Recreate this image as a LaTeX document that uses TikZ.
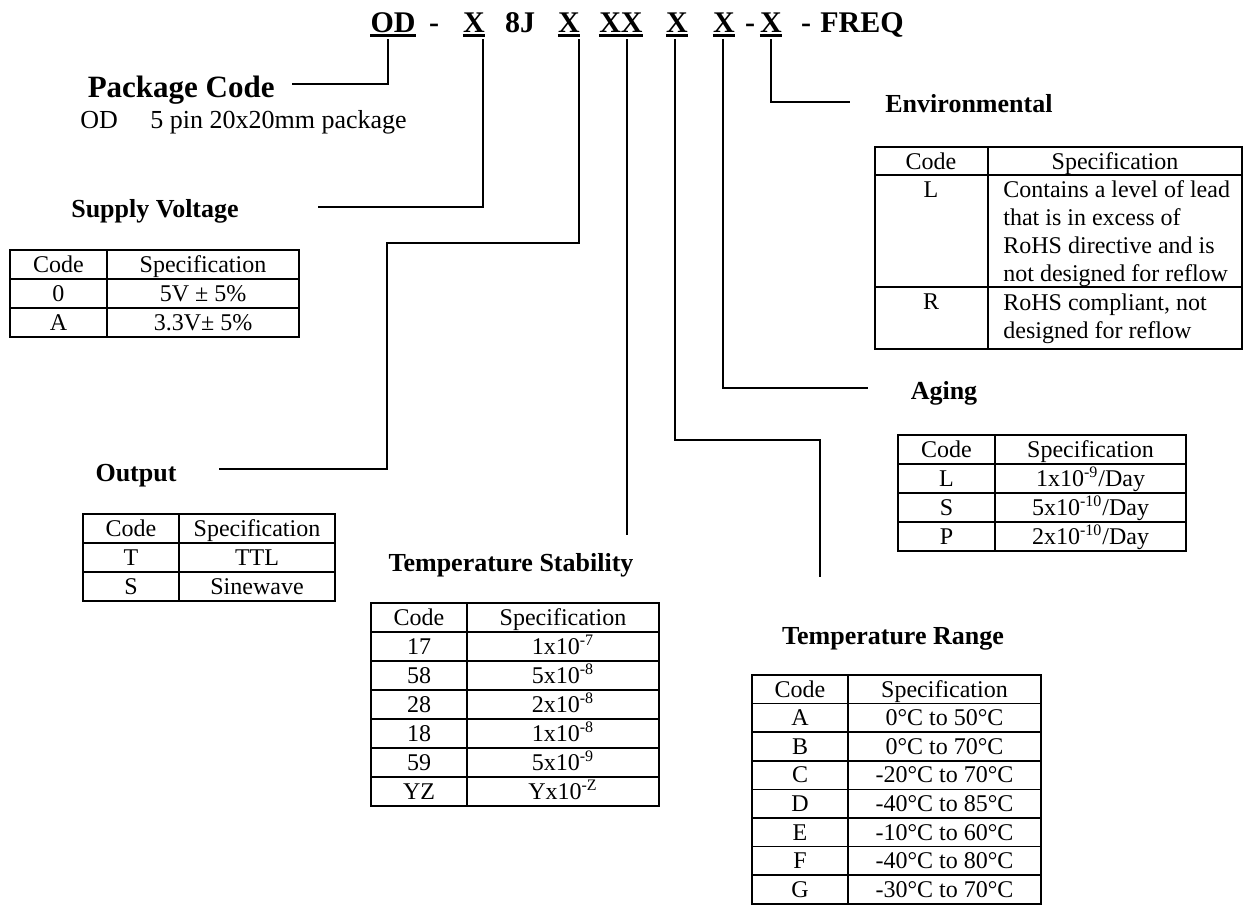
\documentclass[tikz,border=0pt]{standalone}
\usepackage{fontspec}
\setmainfont{Liberation Serif}
\tikzset{
  conn/.style={line width=0.65pt},
  grid/.style={line width=0.8pt},
  uline/.style={line width=1.1pt},
  cell/.style={anchor=base, inner sep=0pt, font=\fontsize{12}{14}\selectfont},
  body/.style={anchor=base west, inner sep=0pt, font=\fontsize{13}{15}\selectfont},
  ttl/.style={anchor=base, inner sep=0pt, font=\fontsize{13}{15}\bfseries\selectfont},
  ttlbig/.style={anchor=base east, inner sep=0pt, font=\fontsize{15.5}{18}\bfseries\selectfont},
  codech/.style={anchor=base, inner sep=0pt, font=\fontsize{15}{18}\bfseries\selectfont},
}
\newcommand\setTab[6]{\def\tN{#1}\def\tA{#2}\def\tB{#3}\def\tC{#4}\def\tT{#5}\def\tH{#6}}
\newcommand\spRow[3]{%
  \pgfmathsetmacro\yt{\tT+#1*\tH}\pgfmathsetmacro\yb{\tT+(#1+1)*\tH}%
  \draw[grid] (\tA,\yt) rectangle (\tC,\yb) (\tB,\yt) -- (\tB,\yb);%
  \node[cell] (\tN c#1) at ({(\tA+\tB)/2},{\yt+22}) {#2};%
  \node[cell] (\tN s#1) at ({(\tB+\tC)/2},{\yt+22}) {#3};}
\begin{document}
\begin{tikzpicture}[x=0.5pt,y=-0.5pt]
\useasboundingbox[fill=white] (0,0) rectangle (1244,905);

% ---- code line
\node[codech] (cOD) at (393,32) {OD};
\node[codech] (d1) at (434,32) {-};
\node[codech] (cV) at (474,32) {X};
\node[codech] (c8J) at (520,32) {8J};
\node[codech] (cO) at (569,32) {X};
\node[codech] (cS) at (621,32) {XX};
\node[codech] (cR) at (677,32) {X};
\node[codech] (cA) at (724,32) {X};
\node[codech] (d2) at (750,32) {-};
\node[codech] (cE) at (771,32) {X};
\node[codech] (d3) at (806,32) {-};
\node[codech] (cF) at (862,32) {FREQ};
\foreach \n in {cOD,cV,cO,cS,cR,cA,cE}
  \draw[uline] ([yshift=-1.7pt]\n.base west) -- ([yshift=-1.7pt]\n.base east);

% ---- tick tops
\coordinate (tOD) at (388,39);
\coordinate (tV) at (483,39);
\coordinate (tO) at (579,39);
\coordinate (tS) at (627,39);
\coordinate (tR) at (675,39);
\coordinate (tA) at (723,39);
\coordinate (tE) at (771,39);

% ---- titles
\node[ttlbig] (pkg) at (275,97) {Package Code};
\node[body] (pkgOD) at (80,128) {OD};
\node[body] (pkgdesc) at (150,128) {5 pin 20x20mm package};
\node[ttl] (supT) at (155,217) {Supply Voltage};
\node[ttl] (outT) at (136,481) {Output};
\node[ttl] (stabT) at (511,571) {Temperature Stability};
\node[ttl] (rngT) at (893,644) {Temperature Range};
\node[ttl] (ageT) at (944,399) {Aging};
\node[ttl, anchor=base west] (envT) at (885,112) {Environmental};

% ---- connectors
\coordinate (ePkg) at (292,84);
\coordinate (eV) at (318,207);
\coordinate (o1) at (579,243);
\coordinate (o2) at (387,243);
\coordinate (o3) at (387,469);
\coordinate (eO) at (219,469);
\coordinate (eS) at (627,535);
\coordinate (r1) at (675,440);
\coordinate (r2) at (820,440);
\coordinate (eR) at (820,577);
\coordinate (eA) at (868,388);
\coordinate (eE) at (850,102);
\draw[conn] (tOD) |- (ePkg);
\draw[conn] (tV) |- (eV);
\draw[conn] (tO) -- (o1) -- (o2) -- (o3) -- (eO);
\draw[conn] (tS) -- (eS);
\draw[conn] (tR) -- (r1) -- (r2) -- (eR);
\draw[conn] (tA) |- (eA);
\draw[conn] (tE) |- (eE);

% ---- Supply Voltage table
\setTab{sup}{10}{107}{299}{250}{29}
\spRow{0}{Code}{Specification}
\spRow{1}{0}{5V ± 5\%}
\spRow{2}{A}{3.3V± 5\%}

% ---- Output table
\setTab{out}{83}{179}{335}{514}{29}
\spRow{0}{Code}{Specification}
\spRow{1}{T}{TTL}
\spRow{2}{S}{Sinewave}

% ---- Temperature Stability table
\setTab{stab}{371}{467}{659}{603}{29}
\spRow{0}{Code}{Specification}
\spRow{1}{17}{1x10\textsuperscript{-7}}
\spRow{2}{58}{5x10\textsuperscript{-8}}
\spRow{3}{28}{2x10\textsuperscript{-8}}
\spRow{4}{18}{1x10\textsuperscript{-8}}
\spRow{5}{59}{5x10\textsuperscript{-9}}
\spRow{6}{YZ}{Yx10\textsuperscript{-Z}}

% ---- Aging table
\setTab{age}{898}{995}{1186}{435}{29}
\spRow{0}{Code}{Specification}
\spRow{1}{L}{1x10\textsuperscript{-9}/Day}
\spRow{2}{S}{5x10\textsuperscript{-10}/Day}
\spRow{3}{P}{2x10\textsuperscript{-10}/Day}

% ---- Temperature Range table
\setTab{rng}{752}{848}{1041}{675}{28.6}
\spRow{0}{Code}{Specification}
\spRow{1}{A}{0°C to 50°C}
\spRow{2}{B}{0°C to 70°C}
\spRow{3}{C}{-20°C to 70°C}
\spRow{4}{D}{-40°C to 85°C}
\spRow{5}{E}{-10°C to 60°C}
\spRow{6}{F}{-40°C to 80°C}
\spRow{7}{G}{-30°C to 70°C}

% ---- Environmental table
\draw[grid] (875,147) rectangle (1242,349);
\draw[grid] (988,147) -- (988,349);
\draw[grid] (875,175) -- (1242,175);
\draw[grid] (875,287) -- (1242,287);
\node[cell] (envc0) at (931,169) {Code};
\node[cell] (envs0) at (1115,169) {Specification};
\node[cell] (envc1) at (931,197) {L};
\node[cell, anchor=base west] (envs1a) at (1003,197) {Contains a level of lead};
\node[cell, anchor=base west] (envs1b) at (1003,225) {that is in excess of};
\node[cell, anchor=base west] (envs1c) at (1003,253) {RoHS directive and is};
\node[cell, anchor=base west] (envs1d) at (1003,281) {not designed for reflow};
\node[cell] (envc2) at (931,309) {R};
\node[cell, anchor=base west] (envs2a) at (1003,310) {RoHS compliant, not};
\node[cell, anchor=base west] (envs2b) at (1003,338) {designed for reflow};
\end{tikzpicture}
\end{document}
